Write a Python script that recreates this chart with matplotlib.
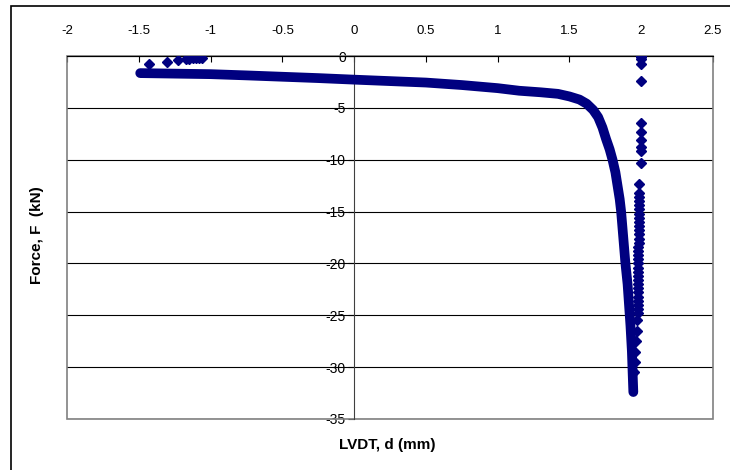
import numpy as np
import matplotlib.pyplot as plt
from matplotlib.patches import Rectangle

plt.rcParams['font.family'] = ['Liberation Sans', 'DejaVu Sans']
plt.rcParams['axes.unicode_minus'] = False

# main loading curve (centre line of the dense band)
main_x = [-1.49, -1.25, -1.0, -0.75, -0.5, -0.25, 0.0, 0.25, 0.5, 0.75, 1.0, 1.15,
          1.3, 1.42, 1.5, 1.57, 1.62, 1.665, 1.70, 1.73, 1.755, 1.78, 1.80, 1.82,
          1.835, 1.85, 1.86, 1.875, 1.89, 1.905, 1.915, 1.925, 1.935, 1.94, 1.945]
main_y = [-1.65, -1.7, -1.75, -1.87, -2.0, -2.13, -2.28, -2.42, -2.56, -2.8, -3.1, -3.35,
          -3.5, -3.65, -3.9, -4.2, -4.6, -5.2, -5.9, -6.9, -8.0, -9.0, -10.0, -11.2,
          -12.5, -13.8, -15.0, -17.5, -20.0, -22.0, -24.0, -26.0, -28.5, -30.5, -32.4]

# unloading branch near d = 2 mm
back_x = [1.952, 1.955, 1.958, 1.962, 1.968, 1.972, 1.975, 1.976, 1.976, 1.977, 1.977,
          1.978, 1.978, 1.978, 1.979, 1.979, 1.979, 1.980, 1.980, 1.980, 1.981, 1.981,
          1.981, 1.982, 1.982, 1.982, 1.983, 1.983, 1.983, 1.984, 1.984, 1.984, 1.985,
          1.985, 1.985, 1.985, 1.985, 1.995, 2.0, 2.0, 2.0, 2.0, 2.0, 1.995, 1.995,
          2.0, 2.0, 2.0]
back_y = [-30.5, -29.5, -28.5, -27.5, -26.5, -25.5, -24.8, -24.4, -24.0, -23.6, -23.2,
          -22.8, -22.4, -22.0, -21.6, -21.2, -20.8, -20.4, -20.0, -19.6, -19.2, -18.8,
          -18.4, -18.0, -17.6, -17.2, -16.8, -16.4, -16.0, -15.6, -15.2, -14.8, -14.4,
          -14.0, -13.6, -13.2, -12.35, -10.35, -9.2, -8.75, -8.1, -7.3, -6.5, -2.4, -0.75,
          -0.25, -0.1, 0.0]

# stray points at the start of the test
stray_x = [-1.43, -1.30, -1.225, -1.17, -1.15, -1.12, -1.10, -1.08, -1.06]
stray_y = [-0.8, -0.58, -0.4, -0.3, -0.25, -0.2, -0.15, -0.2, -0.2]

x_ticks = [-2, -1.5, -1, -0.5, 0, 0.5, 1, 1.5, 2, 2.5]
x_labels = ['-2', '-1.5', '-1', '-0.5', '0', '0.5', '1', '1.5', '2', '2.5']
y_ticks = [-35, -30, -25, -20, -15, -10, -5, 0]
y_labels = ['-35', '-30', '-25', '-20', '-15', '-10', '-5', '0']

navy = '#000080'

fig = plt.figure(figsize=(7.3, 4.7), dpi=100)
ax = fig.add_axes([67/730, 1-419/470, 646/730, 363/470])

ax.plot(main_x, main_y, color=navy, lw=7, solid_capstyle='round',
        solid_joinstyle='round', zorder=3)
ax.plot(back_x, back_y, 'D', color=navy, ms=5.4, lw=0, zorder=3)
ax.plot(stray_x, stray_y, 'D', color=navy, ms=5.4, lw=0, zorder=3)

ax.set_xlim(-2, 2.5)
ax.set_ylim(-35, 0)

ax.set_xticks(x_ticks)
ax.set_xticklabels(x_labels, fontsize=9.5)
ax.set_yticks(y_ticks)
ax.set_yticklabels(y_labels, fontsize=9.5)

ax.xaxis.tick_top()
ax.tick_params(axis='x', direction='in', length=4, width=0.8, pad=14, colors='black')
ax.tick_params(axis='y', direction='out', length=4, width=0.8, pad=2, colors='black')

ax.spines['left'].set_position(('data', 0))
ax.spines['left'].set_color('#404040')
ax.spines['top'].set_color('black')
ax.spines['right'].set_visible(False)
ax.spines['bottom'].set_visible(False)
ax.add_patch(Rectangle((0, 0), 1, 1, transform=ax.transAxes, fill=False,
                       edgecolor='#808080', lw=1.2, clip_on=False, zorder=1))

ax.yaxis.grid(True, color='black', lw=0.8)
ax.set_axisbelow(True)

fig.text(387/730, 1-445/470, 'LVDT, d (mm)', ha='center', va='center',
         fontsize=11, fontweight='bold')
fig.text(37/730, 1-235/470, 'Force, F  (kN)', ha='center', va='center',
         rotation=90, fontsize=11, fontweight='bold')

fig.patches.append(Rectangle((10.5/730, -0.1), 1.2, 1-5.5/470+0.1,
                             transform=fig.transFigure, fill=False,
                             edgecolor='black', lw=1.2))

fig.savefig('out.png', dpi=100)
